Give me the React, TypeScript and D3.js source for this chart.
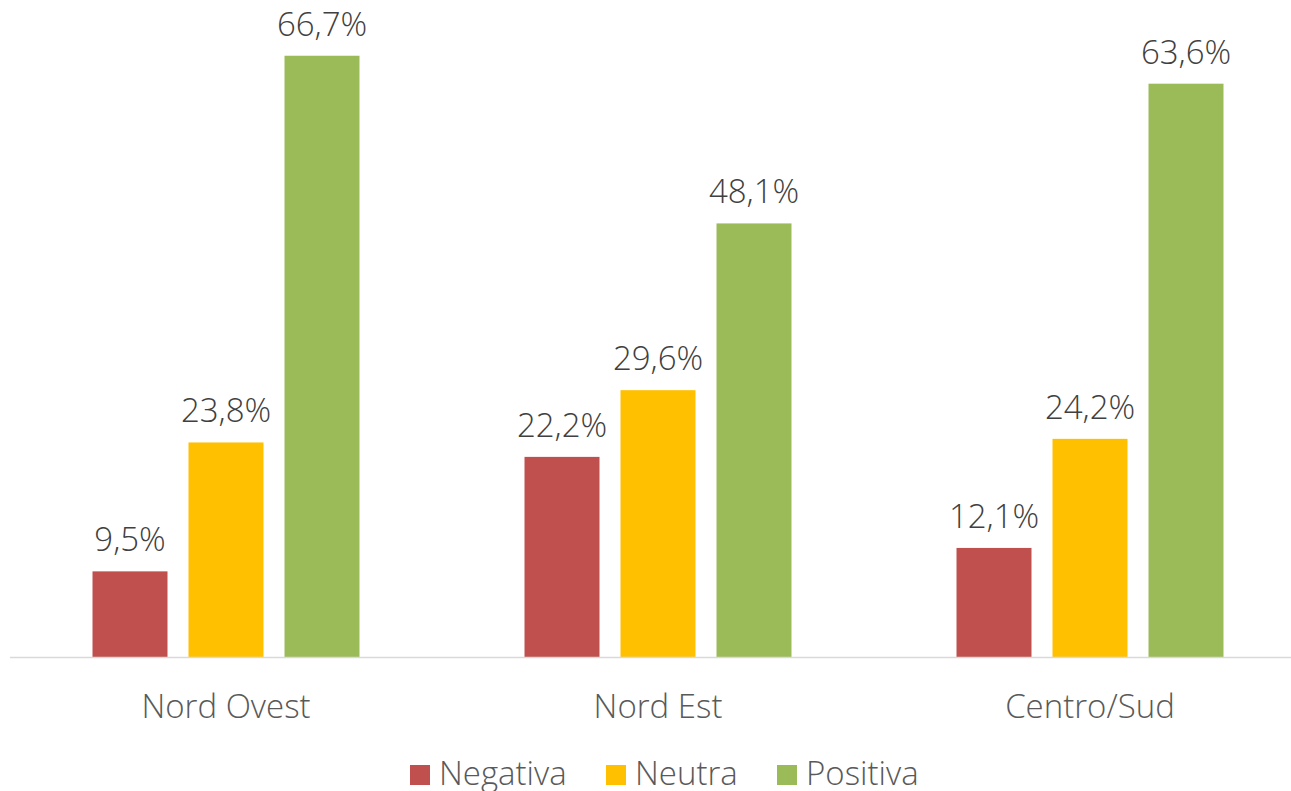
import React, { useEffect, useRef } from "react";
import * as d3 from "d3";

const categories = ["Nord Ovest", "Nord Est", "Centro/Sud"];
const seriesNames = ["Negativa", "Neutra", "Positiva"];
const negativa = [9.5, 22.2, 12.1];
const neutra = [23.8, 29.6, 24.2];
const positiva = [66.7, 48.1, 63.6];
const colors = ["#C0504D", "#FFC000", "#9BBB59"];

const width = 1291;
const height = 791;
const font = "'Open Sans', 'Noto Sans', sans-serif";

function App() {
  const ref = useRef<SVGSVGElement>(null);

  useEffect(() => {
    const svg = d3.select(ref.current);
    svg.selectAll("*").remove();

    const series = [negativa, neutra, positiva];
    const x0 = d3.scaleBand().domain(categories).range([10, 1306]).padding(0);
    const x1 = d3.scaleBand().domain(seriesNames)
      .range([82.5, x0.bandwidth() - 82.5])
      .paddingInner(21 / 96).paddingOuter(0);
    const y = d3.scaleLinear().domain([0, 70]).range([657, 26]);

    const fmt = (v: number) => v.toFixed(1).replace(".", ",") + "%";

    const groups = svg.selectAll("g.cat")
      .data(categories)
      .enter().append("g")
      .attr("class", "cat")
      .attr("transform", d => "translate(" + x0(d) + ",0)");

    groups.each(function (cat, ci) {
      const g = d3.select(this);
      seriesNames.forEach((s, si) => {
        const v = series[si][ci];
        g.append("rect")
          .attr("x", x1(s)!)
          .attr("y", y(v))
          .attr("width", x1.bandwidth())
          .attr("height", y(0) - y(v))
          .attr("fill", colors[si]);
        g.append("text")
          .attr("x", x1(s)! + x1.bandwidth() / 2)
          .attr("y", y(v) - 20)
          .attr("text-anchor", "middle")
          .attr("font-family", font)
          .attr("font-size", 33)
          .attr("font-weight", 350)
          .attr("fill", "#404040")
          .text(fmt(v));
      });
      g.append("text")
        .attr("x", x0.bandwidth() / 2)
        .attr("y", 718)
        .attr("text-anchor", "middle")
        .attr("font-family", font)
        .attr("font-size", 33)
        .attr("font-weight", 350)
        .attr("fill", "#595959")
        .text(cat);
    });

    // axis line
    svg.append("line")
      .attr("x1", 10).attr("x2", width)
      .attr("y1", y(0) + 0.5).attr("y2", y(0) + 0.5)
      .attr("stroke", "#D9D9D9").attr("stroke-width", 1.5);

    // legend
    const legendX = [410, 606, 777];
    const legend = svg.append("g");
    seriesNames.forEach((s, i) => {
      legend.append("rect")
        .attr("x", legendX[i]).attr("y", 765)
        .attr("width", 20).attr("height", 20)
        .attr("fill", colors[i]);
      legend.append("text")
        .attr("x", legendX[i] + 29).attr("y", 785)
        .attr("font-family", font)
        .attr("font-size", 33)
        .attr("font-weight", 350)
        .attr("fill", "#595959")
        .text(s);
    });
  }, []);

  return (
    <svg ref={ref} width={width} height={height}
      style={{ position: "absolute", left: 0, top: 0, background: "#fff" }} />
  );
}

export default App;
